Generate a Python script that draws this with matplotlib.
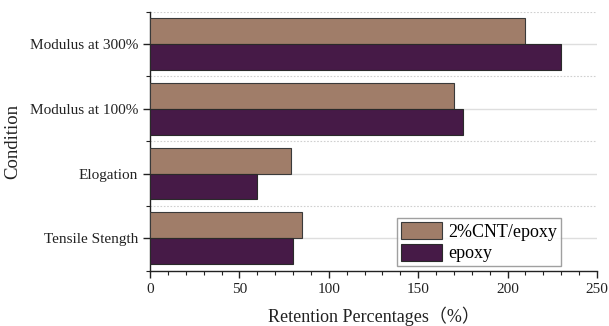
import matplotlib
matplotlib.use("Agg")
import matplotlib.pyplot as plt
from matplotlib.ticker import MultipleLocator, FixedLocator
import numpy as np

categories = ["Tensile Stength", "Elogation", "Modulus at 100%", "Modulus at 300%"]
cnt_epoxy = [85, 79, 170, 210]
epoxy = [80, 60, 175, 230]
series_names = ["2%CNT/epoxy", "epoxy"]
x_ticks = [0, 50, 100, 150, 200, 250]

plt.rcParams["font.family"] = ["Liberation Serif", "Noto Sans CJK SC"]

fig = plt.figure(figsize=(6.09, 3.26), dpi=100)
ax = fig.add_axes([0.2463, 0.1696, 0.734, 0.7945])

y = np.arange(len(categories))
h = 0.4
ax.barh(y + h / 2, cnt_epoxy, height=h, color="#A07D69", edgecolor="#3a3a3a",
        linewidth=0.8, label=series_names[0], zorder=3)
ax.barh(y - h / 2, epoxy, height=h, color="#461A47", edgecolor="#2a2a2a",
        linewidth=0.8, label=series_names[1], zorder=3)

ax.set_xlim(0, 250)
ax.set_ylim(-0.5, len(categories) - 0.5)
ax.set_yticks(y)
ax.set_yticklabels(categories, fontsize=11, color="#222222")
ax.yaxis.set_minor_locator(FixedLocator(np.arange(-0.5, len(categories), 1.0)))
ax.set_xticks(x_ticks)
ax.set_xticklabels([str(v) for v in x_ticks], fontsize=11, color="#222222")
ax.xaxis.set_minor_locator(MultipleLocator(10))

ax.tick_params(axis="both", which="major", direction="out", length=5, width=1, color="#222222")
ax.tick_params(axis="both", which="minor", direction="out", length=3, width=0.8, color="#222222")

ax.grid(axis="y", which="major", color="#dedede", linewidth=1.0, zorder=0)
ax.grid(axis="y", which="minor", color="#d0d0d0", linewidth=0.8, linestyle=(0, (1.5, 1.5)), zorder=0)
ax.set_axisbelow(True)

for s in ["top", "right"]:
    ax.spines[s].set_visible(False)
for s in ["left", "bottom"]:
    ax.spines[s].set_linewidth(1.0)
    ax.spines[s].set_color("#222222")

ax.set_xlabel("Retention Percentages（%）", fontsize=13, labelpad=8, color="#222222")
ax.set_ylabel("Condition", fontsize=13.5, labelpad=6, color="#222222")

leg = ax.legend(loc="lower left", bbox_to_anchor=(397 / 609, 1 - 266 / 326),
                bbox_transform=fig.transFigure, fontsize=13, frameon=True,
                fancybox=False, edgecolor="#888888", handlelength=2.3,
                handleheight=1.1, labelspacing=0.15, borderpad=0.2,
                handletextpad=0.35, borderaxespad=0)
leg.get_frame().set_linewidth(1.0)

fig.savefig("out.png", dpi=100)
